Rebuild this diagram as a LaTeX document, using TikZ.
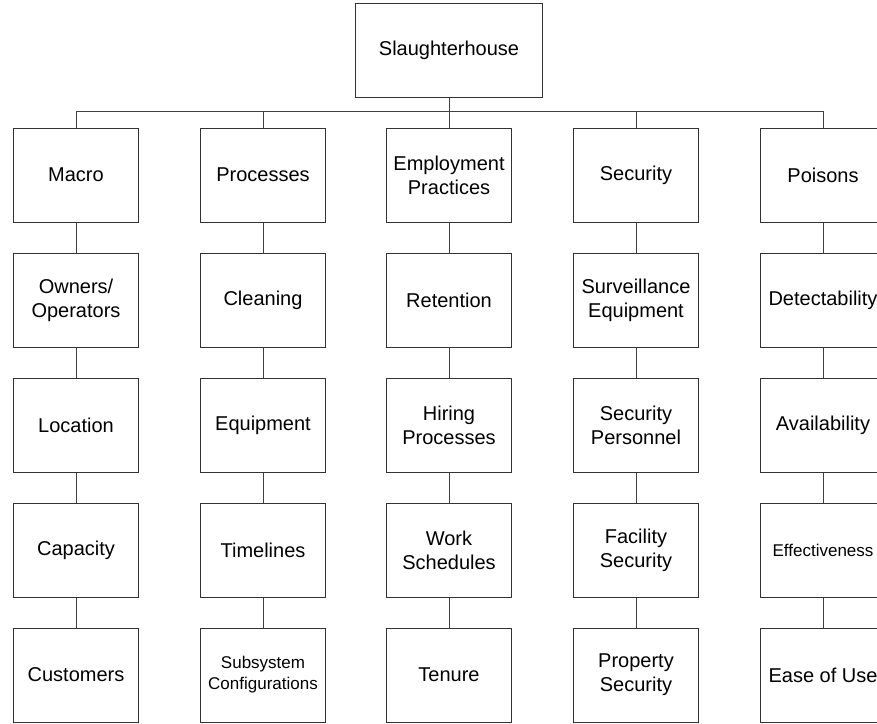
\documentclass[tikz,border=0pt]{standalone}
\usepackage{fontspec}
\setmainfont{Liberation Sans}
\tikzset{
  box/.style={draw=black!80, line width=1pt, minimum width=125pt, minimum height=94pt,
    inner sep=0pt, align=center, font=\fontsize{20}{24}\selectfont},
  smallbox/.style={box, font=\fontsize{17}{21}\selectfont},
  link/.style={draw=black!75, line width=1pt}
}
\begin{document}
\begin{tikzpicture}[x=1pt,y=-1pt]
            \useasboundingbox (0,0) rectangle (877,723);
            \node[box, minimum width=187pt] (T) at (449,50) {Slaughterhouse};
            \coordinate (bus) at (449,111);

            \node[box] (M1) at (76,175) {Macro};
            \node[box] (M2) at (76,300) {Owners/\\Operators};
            \node[box] (M3) at (76,425) {Location};
            \node[box] (M4) at (76,550) {Capacity};
            \node[box] (M5) at (76,675) {Customers};

            \node[box] (P1) at (263,175) {Processes};
            \node[box] (P2) at (263,300) {Cleaning};
            \node[box] (P3) at (263,425) {Equipment};
            \node[box] (P4) at (263,550) {Timelines};
            \node[smallbox] (P5) at (263,675) {Subsystem\\Configurations};

            \node[box] (E1) at (449,175) {Employment\\Practices};
            \node[box] (E2) at (449,300) {Retention};
            \node[box] (E3) at (449,425) {Hiring\\Processes};
            \node[box] (E4) at (449,550) {Work\\Schedules};
            \node[box] (E5) at (449,675) {Tenure};

            \node[box] (S1) at (636,175) {Security};
            \node[box] (S2) at (636,300) {Surveillance\\Equipment};
            \node[box] (S3) at (636,425) {Security\\Personnel};
            \node[box] (S4) at (636,550) {Facility\\Security};
            \node[box] (S5) at (636,675) {Property\\Security};

            \node[box] (X1) at (823,175) {Poisons};
            \node[box] (X2) at (823,300) {Detectability};
            \node[box] (X3) at (823,425) {Availability};
            \node[smallbox] (X4) at (823,550) {Effectiveness};
            \node[box] (X5) at (823,675) {Ease of Use};

            \path[link] (T) -- (bus);
            \path[link] (M1.north) |- (bus);
            \path[link] (bus) -| (X1.north);
            \path[link] (P1.north) -- (P1.north |- bus);
            \path[link] (E1.north) -- (bus);
            \path[link] (S1.north) -- (S1.north |- bus);

            \path[link] (M1) -- (M2) -- (M3) -- (M4) -- (M5);
            \path[link] (P1) -- (P2) -- (P3) -- (P4) -- (P5);
            \path[link] (E1) -- (E2) -- (E3) -- (E4) -- (E5);
            \path[link] (S1) -- (S2) -- (S3) -- (S4) -- (S5);
            \path[link] (X1) -- (X2) -- (X3) -- (X4) -- (X5);
        \end{tikzpicture}
\end{document}
